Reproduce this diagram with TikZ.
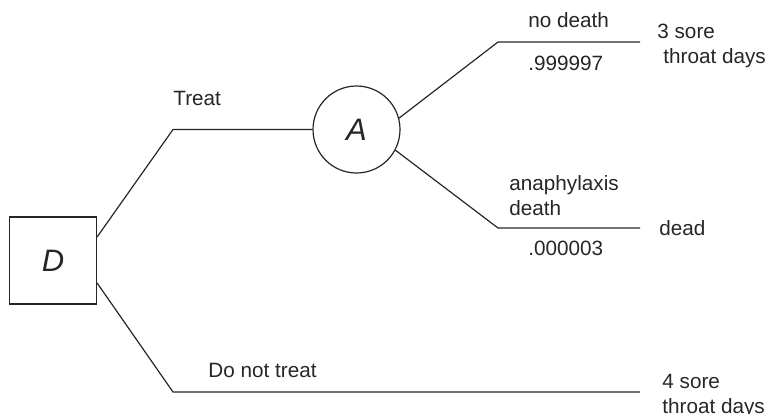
\documentclass[tikz,border=0pt]{standalone}
\usepackage{fontspec}
\setmainfont{Liberation Sans}
\usetikzlibrary{positioning}

\begin{document}
\begin{tikzpicture}[
    x=0.5pt, y=-0.5pt,
    txt/.style={font=\fontsize{10.35}{12.5}\selectfont, text=black!85, inner sep=0pt, align=left},
    dnode/.style={rectangle, draw=black!85, line width=0.6pt, minimum size=43.5pt, inner sep=0pt, text=black!85, font=\fontsize{15.5}{15.5}\selectfont\itshape},
    cnode/.style={circle, draw=black!85, line width=0.6pt, minimum size=43.5pt, inner sep=0pt, text=black!85, font=\fontsize{15.5}{15.5}\selectfont\itshape},
    branch/.style={draw=black!85, line width=0.6pt},
  ]
  \useasboundingbox (0,0) rectangle (766,413);

  % Decision and chance nodes
  \node[dnode] (D) at (53,260.5) {D};
  \node[cnode] (A) at (356.5,129.5) {A};

  % Branch corners and ends
  \coordinate (treatK) at (173,129.5);
  \coordinate (noTreatK) at (173,392);
  \coordinate (noTreatE) at (640,392);
  \coordinate (noDeathK) at (498,42);
  \coordinate (noDeathE) at (640,42);
  \coordinate (deathK) at (498,228);
  \coordinate (deathE) at (640,228);

  % Treat / do not treat
  \draw[branch] ([yshift=11.75pt]D.east) -- (treatK) -- (A.west);
  \draw[branch] ([yshift=-11.25pt]D.east) -- (noTreatK) -- (noTreatE);

  % Chance branches
  \draw[branch] (A.15) -- (noDeathK) -- (noDeathE);
  \draw[branch] (A.-28) -- (deathK) -- (deathE);

  % Branch labels
  \node[txt, anchor=base west] (treatL) at (173,105) {Treat};
  \node[txt, anchor=base west] (noTreatL) at (208,377) {Do not treat};
  \node[txt, anchor=base west] (noDeathL) at (528,27) {no death};
  \node[txt, anchor=base west] (noDeathP) at (528,70) {.999997};
  \node[txt, anchor=base west] (deathL) at (509,215) {anaphylaxis\\death};
  \node[txt, anchor=base west] (deathP) at (528,255) {.000003};

  % Outcomes (base = last line)
  \node[txt, anchor=base west] (outA) at (657,63) {3 sore\\\hspace{3pt}throat days};
  \node[txt, right=9.5pt of deathE] (outB) {dead};
  \node[txt, anchor=base west] (outC) at (662,413) {4 sore\\throat days};
\end{tikzpicture}
\end{document}
